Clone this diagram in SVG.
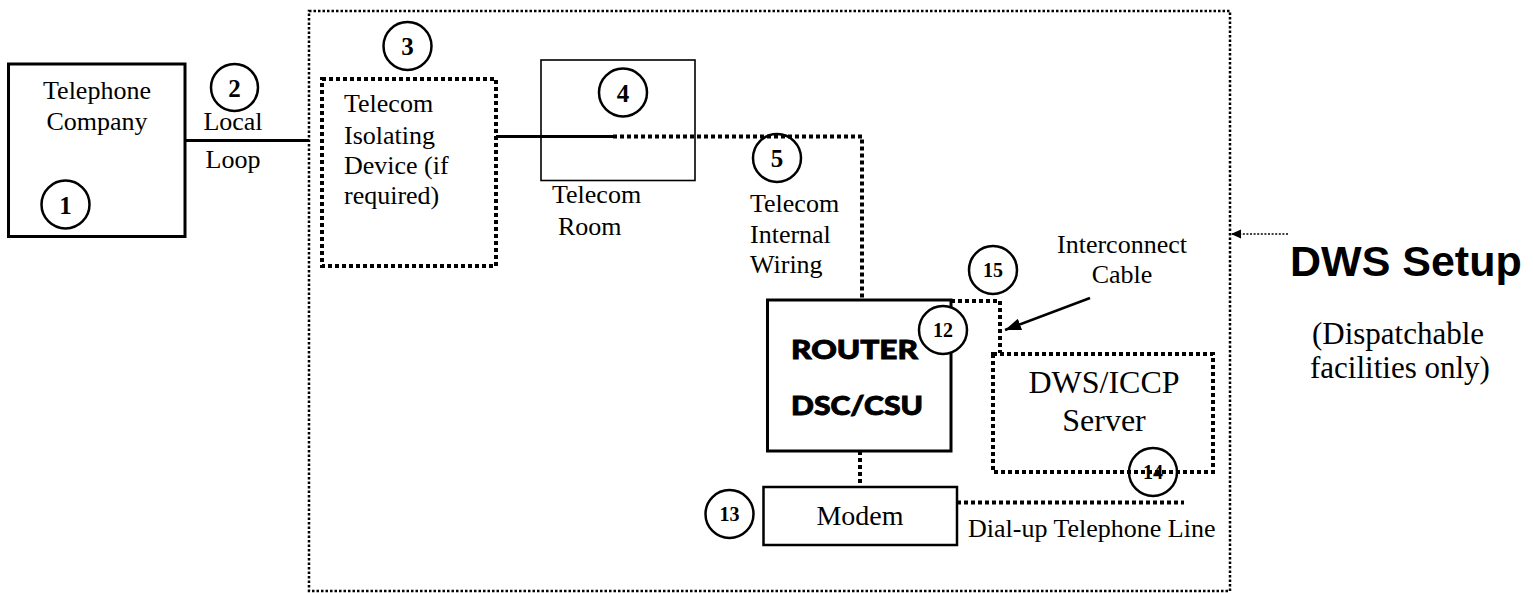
<svg xmlns="http://www.w3.org/2000/svg" width="1533" height="593" viewBox="0 0 1533 593">
<style>
.t{font-family:"Liberation Serif","Times New Roman",serif;fill:#000}
.s26{font-size:26px}
.num{font-family:"Liberation Serif","Times New Roman",serif;font-weight:bold;fill:#000;text-anchor:middle}
.n1{font-size:25px}
.n2{font-size:20px}
.circ{fill:none;stroke:#000;stroke-width:2.5}
.circw{fill:#fff;stroke:#000;stroke-width:2.5}
.solid{fill:none;stroke:#000;stroke-width:3}
.thin{fill:none;stroke:#000;stroke-width:1.6}
.dot{fill:none;stroke:#000;stroke-width:4;stroke-dasharray:4 3}
.dotthin{fill:none;stroke:#000;stroke-width:2.5;stroke-dasharray:2.5 2}
.bold{font-family:"Lato","Roboto","Liberation Sans",Arial,sans-serif;font-weight:900;fill:#000;stroke:#000;stroke-width:0.9}
</style>
<defs>
<marker id="ah" markerUnits="userSpaceOnUse" markerWidth="18" markerHeight="14" refX="16" refY="6" orient="auto">
<path d="M0,0 L16,6 L0,12 Z" fill="#000"/>
</marker>
<marker id="ah2" markerUnits="userSpaceOnUse" markerWidth="12" markerHeight="10" refX="10" refY="4.5" orient="auto">
<path d="M0,0 L10,4.5 L0,9 Z" fill="#000"/>
</marker>
</defs>
<rect width="1533" height="593" fill="#fff"/>

<g id="dws-setup-boundary">
<rect x="309" y="11" width="921" height="580" class="dotthin"/>
</g>

<g id="connectors">
<line x1="185" y1="140.5" x2="309" y2="140.5" class="solid"/>
<line x1="496" y1="136.5" x2="613" y2="136.5" class="solid"/>
<polyline points="613,136.5 862,136.5 862,299" class="dot"/>
<polyline points="951,301 1000,301 1000,353" class="dot"/>
<line x1="860" y1="451" x2="860" y2="487" class="dot"/>
<line x1="957" y1="502.5" x2="1184" y2="502.5" class="dot"/>
<line x1="1090" y1="298" x2="1005" y2="330" stroke="#000" stroke-width="2.5" marker-end="url(#ah)"/>
<line x1="1288" y1="234" x2="1231" y2="234" stroke="#000" stroke-width="1.6" stroke-dasharray="2 1.6" marker-end="url(#ah2)"/>
</g>

<g id="telephone-company">
<rect x="8.5" y="64" width="176.5" height="172.5" fill="none" stroke="#000" stroke-width="3"/>
<text class="t s26" x="97" y="99" text-anchor="middle">Telephone</text>
<text class="t s26" x="97" y="130" text-anchor="middle">Company</text>
<circle cx="65.5" cy="204.5" r="24" class="circ"/>
<text class="num n1" x="65.5" y="213.5">1</text>
</g>

<g id="local-loop">
<circle cx="234.5" cy="87.5" r="23.5" class="circ"/>
<text class="num n1" x="234.5" y="96.5">2</text>
<text class="t s26" x="233" y="130" text-anchor="middle">Local</text>
<text class="t s26" x="233" y="168" text-anchor="middle">Loop</text>
</g>

<g id="isolating-device">
<rect x="322" y="79" width="174" height="187" class="dot"/>
<circle cx="407.5" cy="46" r="24" class="circ"/>
<text class="num n1" x="407.5" y="55">3</text>
<text class="t s26" x="344" y="112">Telecom</text>
<text class="t s26" x="344" y="144">Isolating</text>
<text class="t s26" x="344" y="174">Device (if</text>
<text class="t s26" x="344" y="204">required)</text>
</g>

<g id="telecom-room">
<rect x="541" y="60" width="154" height="120.5" class="thin"/>
<circle cx="623" cy="92.5" r="24" class="circ"/>
<text class="num n1" x="623" y="101.5">4</text>
<text class="t s26" x="552" y="203">Telecom</text>
<text class="t s26" x="558" y="235">Room</text>
</g>

<g id="internal-wiring">
<circle cx="777" cy="158" r="24" class="circ"/>
<text class="num n1" x="777" y="167">5</text>
<text class="t s26" x="750" y="212">Telecom</text>
<text class="t s26" x="750" y="243">Internal</text>
<text class="t s26" x="750" y="273">Wiring</text>
</g>

<g id="router">
<rect x="767.5" y="300" width="183.5" height="151" fill="none" stroke="#000" stroke-width="3"/>
<text class="bold" x="791" y="359" font-size="27" textLength="127" lengthAdjust="spacingAndGlyphs">ROUTER</text>
<text class="bold" x="791" y="415" font-size="27" textLength="132" lengthAdjust="spacingAndGlyphs">DSC/CSU</text>
<circle cx="943" cy="330" r="24" class="circw"/>
<text class="num n2" x="943" y="337">12</text>
</g>

<g id="interconnect-cable">
<circle cx="993" cy="270" r="24" class="circ"/>
<text class="num n2" x="993" y="277">15</text>
<text class="t s26" x="1122" y="253" text-anchor="middle">Interconnect</text>
<text class="t s26" x="1122" y="283" text-anchor="middle">Cable</text>
</g>

<g id="dws-iccp-server">
<rect x="993" y="354" width="220" height="118" class="dot"/>
<text class="t" x="1104" y="393" font-size="32" text-anchor="middle">DWS/ICCP</text>
<text class="t" x="1104" y="431" font-size="32" text-anchor="middle">Server</text>
<circle cx="1153" cy="472" r="24" class="circ"/>
<text class="num n2" x="1153" y="479">14</text>
</g>

<g id="modem">
<rect x="763.5" y="487" width="193.5" height="58" fill="none" stroke="#000" stroke-width="2.5"/>
<text class="t" x="860" y="525" font-size="28" text-anchor="middle">Modem</text>
<circle cx="729.5" cy="514" r="24" class="circ"/>
<text class="num n2" x="729.5" y="521">13</text>
<text class="t s26" x="968" y="537">Dial-up Telephone Line</text>
</g>

<g id="dws-setup-label">
<text x="1290" y="276" font-family="'Liberation Sans',Arial,sans-serif" font-weight="bold" font-size="43">DWS Setup</text>
<text class="t" x="1398" y="344" font-size="31" text-anchor="middle">(Dispatchable</text>
<text class="t" x="1400" y="378" font-size="31" text-anchor="middle">facilities only)</text>
</g>
</svg>
